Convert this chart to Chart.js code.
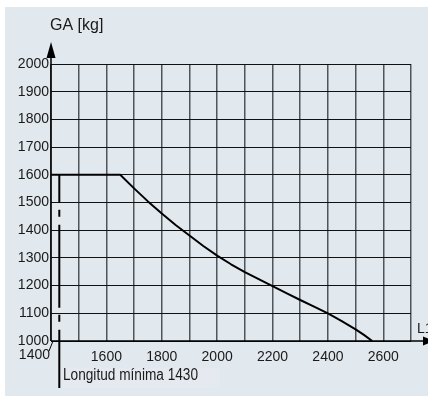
<!DOCTYPE html>
<html><head><meta charset="utf-8">
<script src="https://cdn.jsdelivr.net/npm/chart.js@4/dist/chart.umd.min.js"></script>
<style>html,body{margin:0;padding:0;background:#fff;}#wrap{width:428px;height:396px;}</style>
</head><body><div id="wrap"><canvas id="c" width="428" height="396"></canvas></div>
<script>
const curveL  = [1400, 1650, 1700, 1750, 1800, 1850, 1900, 1950, 2000, 2050, 2100, 2150, 2200, 2250, 2300, 2350, 2400, 2450, 2500, 2530, 2560];
const curveGA = [1600, 1600, 1551, 1504, 1460, 1419, 1381, 1343, 1308, 1277, 1249, 1223, 1198, 1173, 1148, 1124, 1100, 1072, 1042, 1022, 1000];
const xTickLabels = [1400, 1600, 1800, 2000, 2200, 2400, 2600];
const yTickLabels = [1000, 1100, 1200, 1300, 1400, 1500, 1600, 1700, 1800, 1900, 2000];
const minLength = 1430;
const yTitle = 'GA [kg]';
const xTitle = 'L1';
const minLabel = 'Longitud mínima 1430';

const BG = '#e1e8ee';
const TICKFONT = '14px "Liberation Sans", Arial, sans-serif';

const deco = {
  id: 'deco',
  beforeDraw(chart) {
    const ctx = chart.ctx;
    ctx.save();
    ctx.fillStyle = '#ffffff';
    ctx.fillRect(0, 0, chart.width, chart.height);
    ctx.fillStyle = BG;
    ctx.fillRect(5, 7, chart.width - 5, chart.height - 7);
    ctx.fillStyle = '#e4eaef';
    ctx.fillRect(60, 368, 160, 20);
    ctx.restore();
  },
  afterDraw(chart) {
    const ctx = chart.ctx;
    const xs = chart.scales.x, ys = chart.scales.y;
    const x0 = xs.getPixelForValue(xs.min);
    const y0 = ys.getPixelForValue(ys.min);
    ctx.save();
    ctx.strokeStyle = '#000';
    ctx.fillStyle = '#000';
    ctx.lineWidth = 1.5;
    // y axis
    ctx.beginPath(); ctx.moveTo(x0, y0); ctx.lineTo(x0, 52); ctx.stroke();
    ctx.beginPath(); ctx.moveTo(x0, 42); ctx.lineTo(x0 - 4.5, 58); ctx.lineTo(x0 + 4.5, 58); ctx.closePath(); ctx.fill();
    // x axis
    ctx.beginPath(); ctx.moveTo(x0, y0); ctx.lineTo(426, y0); ctx.stroke();
    ctx.beginPath(); ctx.moveTo(434, y0); ctx.lineTo(423, y0 - 4.5); ctx.lineTo(423, y0 + 4.5); ctx.closePath(); ctx.fill();
    // corner diagonal
    ctx.lineWidth = 1;
    ctx.beginPath(); ctx.moveTo(x0 + 2, y0); ctx.lineTo(x0 - 2, y0 + 10); ctx.stroke();
    // minimum length dash-dot line
    const xm = xs.getPixelForValue(minLength);
    ctx.lineWidth = 2;
    ctx.setLineDash([83, 7, 7, 8]);
    ctx.lineDashOffset = 55;
    ctx.beginPath(); ctx.moveTo(xm, ys.getPixelForValue(1600)); ctx.lineTo(xm, 388); ctx.stroke();
    ctx.setLineDash([]);
    // texts
    ctx.fillStyle = '#1a1a1a';
    ctx.font = '16px "Liberation Sans", Arial, sans-serif';
    ctx.textAlign = 'left'; ctx.textBaseline = 'alphabetic';
    ctx.fillText(yTitle, 50, 30);
    ctx.font = '14px "Liberation Sans", Arial, sans-serif';
    ctx.fillText(xTitle, 417, 333);
    ctx.font = '16px "Liberation Sans", Arial, sans-serif';
    const w = ctx.measureText(minLabel).width;
    ctx.save();
    ctx.translate(63, 380);
    ctx.scale(135 / w, 1);
    ctx.fillText(minLabel, 0, 0);
    ctx.restore();
    ctx.font = TICKFONT;
    ctx.textAlign = 'right'; ctx.textBaseline = 'middle';
    ctx.fillText(String(xTickLabels[0]), 50, 355);
    ctx.restore();
  }
};

new Chart(document.getElementById('c'), {
  type: 'line',
  data: {
    datasets: [{
      data: curveL.map((l, i) => ({x: l, y: curveGA[i]})),
      borderColor: '#000',
      borderWidth: 2,
      pointRadius: 0,
      tension: 0,
      borderJoinStyle: 'round',
      fill: false
    }]
  },
  options: {
    responsive: false,
    animation: false,
    devicePixelRatio: 1,
    layout: { padding: { left: 5, top: 64, right: 17, bottom: 0 } },
    plugins: { legend: { display: false }, tooltip: { enabled: false } },
    scales: {
      x: {
        type: 'linear', min: 1400, max: 2700,
        afterFit(s) { s.height = 55; },
        grid: { color: '#50555a', lineWidth: 1.5, drawTicks: false },
        border: { display: false },
        ticks: {
          stepSize: 100, autoSkip: false, maxRotation: 0, padding: 8,
          color: '#1a1a1a', font: { family: '"Liberation Sans", Arial, sans-serif', size: 14 },
          callback: v => (xTickLabels.includes(v) && v !== xTickLabels[0]) ? String(v) : ''
        }
      },
      y: {
        type: 'linear', min: 1000, max: 2000,
        afterFit(s) { s.width = 46; },
        grid: { color: '#111', lineWidth: 1, drawTicks: false },
        border: { display: false },
        ticks: {
          stepSize: 100, autoSkip: false, padding: 2,
          color: '#1a1a1a', font: { family: '"Liberation Sans", Arial, sans-serif', size: 14 },
          callback: v => yTickLabels.includes(v) ? String(v) : ''
        }
      }
    }
  },
  plugins: [deco]
});
</script>
</body></html>
